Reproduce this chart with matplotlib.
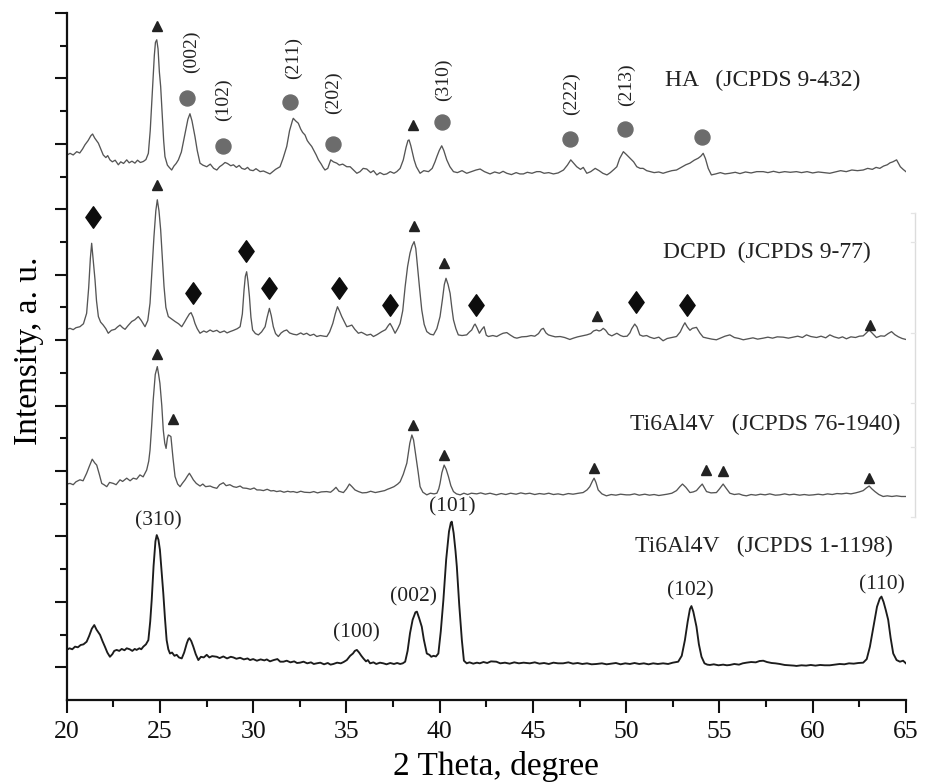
import matplotlib
matplotlib.use("Agg")
import matplotlib.pyplot as plt
from matplotlib.path import Path
from matplotlib.lines import Line2D

plt.rcParams['font.family'] = ['Liberation Serif', 'DejaVu Serif']

# ---- diffractograms: (2theta in degrees, intensity in a.u.) ----
ti_1198 = [
    (20.00, 1.53), (20.15, 1.58), (20.30, 1.55), (20.45, 1.63), (20.60, 1.61), (20.75, 1.68),
    (20.90, 1.70), (21.07, 1.78), (21.20, 1.95), (21.35, 2.18), (21.48, 2.29), (21.60, 2.15),
    (21.79, 1.99), (21.92, 1.80), (22.05, 1.63), (22.18, 1.45), (22.32, 1.32), (22.45, 1.40),
    (22.55, 1.50), (22.68, 1.53), (22.82, 1.50), (22.95, 1.56), (23.10, 1.52), (23.22, 1.58),
    (23.38, 1.55), (23.52, 1.50), (23.65, 1.56), (23.75, 1.53), (23.90, 1.58), (24.00, 1.55),
    (24.11, 1.63), (24.25, 1.70), (24.38, 1.83), (24.48, 2.40), (24.56, 3.06), (24.66, 4.10),
    (24.76, 4.85), (24.83, 5.04), (24.92, 4.90), (25.00, 4.59), (25.09, 3.95), (25.18, 3.27),
    (25.27, 2.50), (25.36, 1.83), (25.45, 1.55), (25.54, 1.42), (25.65, 1.45), (25.78, 1.35),
    (25.90, 1.38), (26.02, 1.30), (26.17, 1.27), (26.30, 1.45), (26.44, 1.73), (26.52, 1.85),
    (26.58, 1.89), (26.68, 1.80), (26.79, 1.63), (26.92, 1.40), (27.06, 1.22), (27.20, 1.32),
    (27.35, 1.30), (27.51, 1.38), (27.65, 1.30), (27.80, 1.34), (28.05, 1.32), (28.20, 1.28),
    (28.40, 1.33), (28.60, 1.27), (28.80, 1.32), (28.94, 1.30), (29.10, 1.26), (29.30, 1.29),
    (29.50, 1.24), (29.70, 1.27), (29.83, 1.22), (30.00, 1.25), (30.20, 1.20), (30.40, 1.24),
    (30.60, 1.21), (30.73, 1.24), (30.90, 1.18), (31.10, 1.22), (31.30, 1.25), (31.45, 1.17),
    (31.62, 1.17), (31.80, 1.20), (32.00, 1.15), (32.20, 1.18), (32.35, 1.13), (32.51, 1.14),
    (32.70, 1.17), (32.90, 1.12), (33.10, 1.15), (33.25, 1.10), (33.41, 1.12), (33.60, 1.14),
    (33.80, 1.09), (34.00, 1.13), (34.15, 1.08), (34.30, 1.10), (34.50, 1.14), (34.70, 1.12),
    (34.85, 1.16), (35.02, 1.22), (35.20, 1.35), (35.35, 1.42), (35.45, 1.50), (35.56, 1.53),
    (35.68, 1.45), (35.80, 1.35), (35.91, 1.27), (36.05, 1.18), (36.15, 1.22), (36.27, 1.12),
    (36.45, 1.15), (36.60, 1.10), (36.80, 1.14), (36.98, 1.12), (37.15, 1.09), (37.35, 1.13),
    (37.55, 1.10), (37.72, 1.13), (37.88, 1.10), (38.02, 1.12), (38.15, 1.17), (38.28, 1.50),
    (38.41, 2.04), (38.55, 2.45), (38.70, 2.68), (38.78, 2.70), (38.90, 2.50), (39.04, 2.24),
    (39.15, 1.85), (39.31, 1.42), (39.45, 1.38), (39.55, 1.32), (39.67, 1.35), (39.80, 1.33),
    (39.93, 1.42), (40.06, 2.10), (40.20, 3.06), (40.35, 4.30), (40.50, 5.15), (40.60, 5.42),
    (40.65, 5.45), (40.75, 5.10), (40.85, 4.55), (40.92, 4.08), (41.05, 2.90), (41.19, 1.83),
    (41.30, 1.20), (41.45, 1.12), (41.60, 1.15), (41.80, 1.11), (42.00, 1.14), (42.15, 1.12),
    (42.35, 1.16), (42.55, 1.13), (42.75, 1.18), (43.04, 1.17), (43.25, 1.12), (43.50, 1.14),
    (43.75, 1.11), (44.00, 1.15), (44.25, 1.12), (44.50, 1.14), (44.83, 1.12), (45.10, 1.15),
    (45.35, 1.11), (45.60, 1.13), (45.85, 1.10), (46.10, 1.14), (46.35, 1.12), (46.62, 1.12),
    (46.90, 1.15), (47.15, 1.11), (47.40, 1.13), (47.65, 1.10), (47.90, 1.12), (48.15, 1.09),
    (48.41, 1.10), (48.70, 1.12), (48.95, 1.09), (49.20, 1.11), (49.45, 1.13), (49.70, 1.09),
    (49.95, 1.12), (50.20, 1.10), (50.45, 1.13), (50.70, 1.10), (50.95, 1.12), (51.20, 1.09),
    (51.45, 1.12), (51.70, 1.10), (51.98, 1.12), (52.25, 1.10), (52.50, 1.14), (52.79, 1.17),
    (52.98, 1.35), (53.15, 1.83), (53.30, 2.40), (53.42, 2.78), (53.50, 2.87), (53.60, 2.70),
    (53.77, 2.24), (53.90, 1.70), (54.04, 1.32), (54.20, 1.12), (54.35, 1.08), (54.49, 1.07),
    (54.70, 1.09), (54.95, 1.06), (55.20, 1.08), (55.40, 1.06), (55.56, 1.07), (55.80, 1.10),
    (56.05, 1.08), (56.25, 1.12), (56.45, 1.14), (56.70, 1.16), (56.95, 1.15), (57.15, 1.19),
    (57.35, 1.20), (57.55, 1.16), (57.80, 1.13), (58.00, 1.12), (58.24, 1.10), (58.50, 1.07),
    (58.75, 1.06), (59.00, 1.05), (59.13, 1.04), (59.40, 1.06), (59.65, 1.05), (59.90, 1.07),
    (60.15, 1.05), (60.40, 1.07), (60.65, 1.06), (60.92, 1.06), (61.20, 1.08), (61.45, 1.10),
    (61.70, 1.09), (61.95, 1.12), (62.20, 1.11), (62.45, 1.13), (62.71, 1.14), (62.90, 1.25),
    (63.07, 1.63), (63.25, 2.20), (63.45, 2.85), (63.60, 3.10), (63.69, 3.16), (63.80, 3.00),
    (63.92, 2.75), (64.05, 2.45), (64.18, 1.90), (64.32, 1.42), (64.50, 1.22), (64.68, 1.17),
    (64.85, 1.20), (65.00, 1.12),
]

ti_76_1940 = [
    (20.00, 1.40), (20.18, 1.42), (20.35, 1.38), (20.50, 1.47), (20.71, 1.53), (20.88, 1.50),
    (21.07, 1.73), (21.22, 1.95), (21.37, 2.16), (21.50, 2.05), (21.61, 1.98), (21.75, 1.70),
    (21.88, 1.42), (22.00, 1.38), (22.15, 1.32), (22.30, 1.45), (22.50, 1.42), (22.65, 1.38),
    (22.86, 1.53), (23.00, 1.48), (23.22, 1.58), (23.40, 1.50), (23.57, 1.58), (23.75, 1.55),
    (23.93, 1.68), (24.10, 1.62), (24.29, 1.83), (24.40, 2.10), (24.47, 2.44), (24.56, 3.20),
    (24.64, 3.97), (24.75, 4.75), (24.86, 4.99), (24.93, 4.75), (25.00, 4.48), (25.10, 3.80),
    (25.18, 3.05), (25.26, 2.65), (25.33, 2.49), (25.40, 2.80), (25.45, 2.90), (25.52, 2.88),
    (25.59, 2.85), (25.70, 2.20), (25.81, 1.63), (25.95, 1.40), (26.08, 1.32), (26.20, 1.42),
    (26.35, 1.53), (26.48, 1.65), (26.58, 1.73), (26.70, 1.62), (26.79, 1.53), (26.95, 1.42),
    (27.15, 1.34), (27.30, 1.40), (27.45, 1.32), (27.69, 1.34), (27.85, 1.30), (28.05, 1.27),
    (28.20, 1.38), (28.40, 1.44), (28.55, 1.35), (28.75, 1.38), (28.94, 1.32), (29.10, 1.30),
    (29.30, 1.34), (29.45, 1.28), (29.65, 1.27), (29.85, 1.24), (30.05, 1.28), (30.20, 1.22),
    (30.37, 1.22), (30.55, 1.20), (30.75, 1.24), (30.95, 1.19), (31.10, 1.20), (31.26, 1.17),
    (31.45, 1.19), (31.65, 1.15), (31.85, 1.18), (32.00, 1.16), (32.15, 1.17), (32.35, 1.14),
    (32.55, 1.18), (32.75, 1.15), (33.05, 1.14), (33.25, 1.17), (33.45, 1.13), (33.65, 1.16),
    (33.94, 1.17), (34.15, 1.15), (34.30, 1.22), (34.44, 1.30), (34.60, 1.18), (34.84, 1.14),
    (35.00, 1.25), (35.16, 1.40), (35.30, 1.32), (35.46, 1.22), (35.65, 1.17), (35.85, 1.13),
    (36.09, 1.14), (36.30, 1.18), (36.55, 1.14), (36.81, 1.17), (37.05, 1.20), (37.20, 1.24),
    (37.34, 1.27), (37.55, 1.32), (37.75, 1.40), (37.88, 1.47), (38.05, 1.70), (38.24, 2.04),
    (38.40, 2.65), (38.51, 2.90), (38.60, 2.75), (38.73, 2.24), (38.85, 1.75), (38.95, 1.32),
    (39.10, 1.15), (39.31, 1.07), (39.50, 1.12), (39.70, 1.10), (39.85, 1.12), (39.95, 1.25),
    (40.02, 1.42), (40.12, 1.75), (40.24, 1.98), (40.35, 1.85), (40.47, 1.63), (40.60, 1.35),
    (40.74, 1.17), (40.90, 1.10), (41.10, 1.07), (41.30, 1.12), (41.50, 1.08), (41.70, 1.12),
    (41.99, 1.10), (42.20, 1.13), (42.45, 1.09), (42.70, 1.12), (43.04, 1.07), (43.30, 1.11),
    (43.55, 1.08), (43.80, 1.12), (44.10, 1.09), (44.35, 1.13), (44.60, 1.10), (44.83, 1.12),
    (45.10, 1.08), (45.35, 1.11), (45.60, 1.09), (45.85, 1.12), (46.10, 1.08), (46.35, 1.10),
    (46.62, 1.07), (46.90, 1.11), (47.15, 1.09), (47.45, 1.12), (47.69, 1.14), (47.90, 1.22),
    (48.05, 1.32), (48.20, 1.50), (48.28, 1.58), (48.38, 1.45), (48.50, 1.22), (48.70, 1.10),
    (48.94, 1.04), (49.20, 1.08), (49.45, 1.06), (49.70, 1.09), (50.00, 1.07), (50.20, 1.07),
    (50.45, 1.10), (50.70, 1.06), (51.00, 1.09), (51.25, 1.06), (51.50, 1.08), (51.75, 1.05),
    (51.98, 1.07), (52.20, 1.09), (52.45, 1.12), (52.70, 1.20), (52.88, 1.32), (53.02, 1.40),
    (53.20, 1.30), (53.42, 1.14), (53.60, 1.16), (53.77, 1.20), (53.95, 1.32), (54.08, 1.40),
    (54.20, 1.28), (54.31, 1.17), (54.55, 1.13), (54.84, 1.14), (55.00, 1.25), (55.20, 1.40),
    (55.35, 1.28), (55.56, 1.12), (55.80, 1.08), (56.05, 1.10), (56.25, 1.06), (56.45, 1.04),
    (56.70, 1.08), (56.95, 1.06), (57.20, 1.09), (57.45, 1.07), (57.70, 1.10), (58.00, 1.06),
    (58.24, 1.07), (58.50, 1.10), (58.75, 1.07), (59.00, 1.09), (59.30, 1.06), (59.55, 1.08),
    (59.80, 1.06), (60.03, 1.07), (60.30, 1.09), (60.55, 1.07), (60.80, 1.10), (61.05, 1.08),
    (61.30, 1.11), (61.55, 1.10), (61.81, 1.12), (62.05, 1.10), (62.30, 1.13), (62.50, 1.16),
    (62.71, 1.20), (62.88, 1.28), (63.03, 1.34), (63.18, 1.25), (63.34, 1.17), (63.55, 1.08),
    (63.78, 1.02), (64.00, 1.04), (64.25, 1.02), (64.50, 1.04), (64.75, 1.02), (65.00, 1.02),
]

dcpd = [
    (20.00, 1.33), (20.18, 1.36), (20.35, 1.32), (20.50, 1.38), (20.71, 1.41), (20.90, 1.50),
    (21.07, 1.82), (21.18, 2.60), (21.27, 3.50), (21.34, 3.96), (21.43, 3.40), (21.52, 2.84),
    (21.60, 2.20), (21.70, 1.72), (21.82, 1.55), (21.96, 1.46), (22.10, 1.35), (22.23, 1.21),
    (22.40, 1.30), (22.59, 1.33), (22.72, 1.40), (22.86, 1.46), (23.00, 1.38), (23.13, 1.33),
    (23.30, 1.45), (23.49, 1.57), (23.65, 1.62), (23.84, 1.72), (24.00, 1.60), (24.20, 1.41),
    (24.35, 1.60), (24.47, 2.13), (24.58, 3.20), (24.68, 4.16), (24.78, 4.95), (24.86, 5.29),
    (24.95, 4.95), (25.04, 4.37), (25.13, 3.50), (25.22, 2.64), (25.32, 2.00), (25.45, 1.72),
    (25.62, 1.65), (25.81, 1.57), (26.00, 1.50), (26.17, 1.41), (26.32, 1.55), (26.44, 1.67),
    (26.58, 1.80), (26.67, 1.84), (26.78, 1.70), (26.88, 1.51), (27.00, 1.35), (27.15, 1.21),
    (27.35, 1.28), (27.50, 1.24), (27.69, 1.31), (27.85, 1.26), (28.05, 1.30), (28.22, 1.23),
    (28.45, 1.28), (28.60, 1.22), (28.76, 1.26), (28.95, 1.30), (29.15, 1.35), (29.30, 1.41),
    (29.42, 1.80), (29.51, 2.53), (29.58, 2.95), (29.65, 3.09), (29.72, 2.80), (29.80, 2.33),
    (29.88, 1.70), (29.97, 1.31), (30.12, 1.20), (30.28, 1.16), (30.45, 1.25), (30.64, 1.41),
    (30.75, 1.70), (30.87, 1.97), (30.97, 1.75), (31.08, 1.41), (31.20, 1.20), (31.35, 1.11),
    (31.50, 1.22), (31.65, 1.28), (31.80, 1.31), (31.95, 1.22), (32.15, 1.18), (32.34, 1.16),
    (32.55, 1.22), (32.70, 1.17), (32.87, 1.21), (33.05, 1.14), (33.25, 1.18), (33.41, 1.11),
    (33.60, 1.14), (33.80, 1.12), (33.95, 1.11), (34.10, 1.25), (34.27, 1.51), (34.40, 1.80),
    (34.52, 2.02), (34.62, 1.90), (34.75, 1.72), (34.90, 1.55), (35.02, 1.41), (35.15, 1.43),
    (35.29, 1.46), (35.45, 1.33), (35.64, 1.21), (35.80, 1.24), (35.91, 1.21), (36.10, 1.15),
    (36.30, 1.18), (36.45, 1.11), (36.65, 1.17), (36.90, 1.26), (37.10, 1.32), (37.25, 1.45),
    (37.34, 1.51), (37.45, 1.40), (37.61, 1.21), (37.75, 1.35), (37.88, 1.51), (38.02, 1.90),
    (38.15, 2.64), (38.28, 3.25), (38.41, 3.66), (38.52, 3.88), (38.63, 4.01), (38.72, 3.80),
    (38.81, 3.25), (38.92, 2.60), (39.04, 1.92), (39.17, 1.48), (39.31, 1.26), (39.50, 1.18),
    (39.67, 1.16), (39.85, 1.35), (40.02, 1.72), (40.15, 2.25), (40.25, 2.70), (40.34, 2.89),
    (40.45, 2.70), (40.56, 2.43), (40.65, 2.00), (40.74, 1.62), (40.87, 1.35), (41.00, 1.16),
    (41.20, 1.14), (41.45, 1.16), (41.60, 1.25), (41.72, 1.31), (41.85, 1.46), (41.90, 1.49),
    (42.00, 1.38), (42.13, 1.21), (42.25, 1.32), (42.38, 1.41), (42.50, 1.15), (42.61, 1.11),
    (42.85, 1.14), (43.06, 1.11), (43.25, 1.17), (43.40, 1.21), (43.60, 1.23), (43.80, 1.15),
    (44.00, 1.08), (44.14, 1.06), (44.40, 1.10), (44.67, 1.11), (44.90, 1.14), (45.10, 1.12),
    (45.30, 1.20), (45.45, 1.33), (45.56, 1.36), (45.70, 1.22), (45.83, 1.16), (46.00, 1.13),
    (46.20, 1.10), (46.46, 1.11), (46.70, 1.08), (46.98, 1.02), (47.17, 1.06), (47.40, 1.10),
    (47.65, 1.13), (47.89, 1.16), (48.10, 1.20), (48.25, 1.28), (48.41, 1.31), (48.55, 1.28),
    (48.65, 1.30), (48.77, 1.36), (48.90, 1.30), (49.05, 1.18), (49.23, 1.13), (49.40, 1.18),
    (49.50, 1.21), (49.70, 1.14), (49.85, 1.11), (50.05, 1.12), (50.20, 1.22), (50.30, 1.35),
    (50.46, 1.49), (50.58, 1.40), (50.73, 1.16), (50.90, 1.12), (51.10, 1.14), (51.27, 1.09),
    (51.50, 1.05), (51.75, 1.09), (51.98, 0.98), (52.20, 1.05), (52.45, 1.08), (52.70, 1.11),
    (52.90, 1.25), (53.05, 1.43), (53.15, 1.53), (53.28, 1.40), (53.42, 1.30), (53.55, 1.36),
    (53.77, 1.39), (53.95, 1.22), (54.13, 1.09), (54.35, 1.06), (54.60, 1.03), (54.84, 1.01),
    (55.05, 1.06), (55.30, 1.12), (55.56, 1.16), (55.80, 1.08), (56.05, 1.05), (56.28, 1.01),
    (56.55, 1.04), (56.80, 1.07), (57.05, 1.03), (57.35, 1.06), (57.60, 1.09), (57.85, 1.06),
    (58.10, 1.10), (58.42, 1.09), (58.70, 1.06), (58.95, 1.09), (59.20, 1.12), (59.45, 1.08),
    (59.67, 1.16), (59.90, 1.11), (60.21, 1.08), (60.45, 1.12), (60.70, 1.07), (60.92, 1.16),
    (61.15, 1.10), (61.40, 1.06), (61.60, 1.10), (61.81, 1.04), (62.05, 1.10), (62.30, 1.08),
    (62.50, 1.12), (62.71, 1.13), (62.88, 1.22), (63.03, 1.31), (63.18, 1.22), (63.42, 1.08),
    (63.65, 1.13), (63.85, 1.12), (64.05, 1.20), (64.23, 1.26), (64.40, 1.17), (64.60, 1.10),
    (64.80, 1.05), (65.00, 1.02),
]

ha = [
    (20.00, 1.65), (20.18, 1.71), (20.35, 1.66), (20.54, 1.76), (20.70, 1.72), (20.85, 1.84),
    (20.98, 1.97), (21.15, 2.10), (21.30, 2.25), (21.39, 2.30), (21.50, 2.18), (21.60, 2.10),
    (21.70, 2.02), (21.82, 1.85), (21.96, 1.66), (22.10, 1.58), (22.20, 1.64), (22.32, 1.51),
    (22.45, 1.45), (22.60, 1.50), (22.77, 1.36), (22.90, 1.45), (23.05, 1.40), (23.22, 1.51),
    (23.35, 1.42), (23.50, 1.47), (23.66, 1.41), (23.80, 1.50), (23.95, 1.43), (24.11, 1.46),
    (24.25, 1.52), (24.38, 1.71), (24.48, 2.40), (24.55, 3.15), (24.61, 3.75), (24.70, 4.70),
    (24.76, 5.10), (24.83, 5.18), (24.90, 4.90), (24.97, 4.20), (25.04, 3.75), (25.12, 2.90),
    (25.20, 2.10), (25.27, 1.61), (25.40, 1.35), (25.50, 1.28), (25.63, 1.20), (25.75, 1.32),
    (25.87, 1.40), (25.99, 1.51), (26.15, 1.75), (26.35, 2.32), (26.50, 2.75), (26.61, 2.92),
    (26.72, 2.70), (26.88, 2.22), (27.00, 1.80), (27.15, 1.41), (27.30, 1.35), (27.51, 1.30),
    (27.70, 1.38), (27.88, 1.25), (28.05, 1.20), (28.20, 1.30), (28.35, 1.36), (28.49, 1.43),
    (28.62, 1.40), (28.80, 1.33), (28.94, 1.36), (29.10, 1.28), (29.25, 1.34), (29.39, 1.25),
    (29.55, 1.22), (29.70, 1.28), (29.83, 1.20), (30.00, 1.18), (30.15, 1.24), (30.37, 1.15),
    (30.55, 1.17), (30.75, 1.12), (30.90, 1.08), (31.05, 1.15), (31.20, 1.22), (31.44, 1.30),
    (31.60, 1.55), (31.80, 1.92), (31.95, 2.40), (32.10, 2.70), (32.15, 2.78), (32.28, 2.70),
    (32.42, 2.63), (32.55, 2.45), (32.65, 2.35), (32.78, 2.27), (32.90, 2.10), (33.00, 2.02),
    (33.14, 1.92), (33.25, 1.80), (33.38, 1.66), (33.50, 1.51), (33.65, 1.38), (33.75, 1.28),
    (33.85, 1.20), (34.00, 1.25), (34.16, 1.51), (34.30, 1.45), (34.48, 1.41), (34.62, 1.35),
    (34.80, 1.38), (35.02, 1.30), (35.20, 1.30), (35.38, 1.20), (35.56, 1.10), (35.73, 1.15),
    (35.90, 1.25), (36.09, 1.23), (36.30, 1.12), (36.45, 1.18), (36.63, 1.05), (36.80, 1.12),
    (37.00, 1.06), (37.16, 1.08), (37.35, 1.15), (37.55, 1.10), (37.70, 1.15), (37.88, 1.25),
    (38.05, 1.51), (38.20, 1.90), (38.30, 2.10), (38.36, 2.12), (38.45, 1.95), (38.55, 1.70),
    (38.63, 1.51), (38.75, 1.30), (38.95, 1.10), (39.15, 1.18), (39.40, 1.15), (39.60, 1.25),
    (39.75, 1.45), (39.85, 1.61), (39.98, 1.80), (40.11, 1.94), (40.22, 1.80), (40.38, 1.51),
    (40.55, 1.30), (40.74, 1.15), (40.95, 1.12), (41.20, 1.18), (41.45, 1.10), (41.70, 1.15),
    (41.95, 1.20), (42.17, 1.23), (42.40, 1.15), (42.70, 1.08), (42.95, 1.14), (43.20, 1.10),
    (43.40, 1.16), (43.60, 1.10), (43.85, 1.06), (44.10, 1.12), (44.30, 1.08), (44.49, 1.08),
    (44.70, 1.13), (44.95, 1.10), (45.20, 1.15), (45.39, 1.15), (45.60, 1.10), (45.85, 1.12),
    (46.10, 1.08), (46.35, 1.11), (46.64, 1.20), (46.85, 1.35), (47.03, 1.51), (47.20, 1.40),
    (47.35, 1.30), (47.55, 1.22), (47.70, 1.28), (47.89, 1.10), (48.10, 1.15), (48.34, 1.25),
    (48.55, 1.18), (48.75, 1.10), (48.97, 1.05), (49.15, 1.12), (49.35, 1.22), (49.50, 1.30),
    (49.65, 1.55), (49.85, 1.76), (50.00, 1.68), (50.21, 1.56), (50.40, 1.45), (50.57, 1.30),
    (50.75, 1.25), (50.91, 1.25), (51.10, 1.18), (51.30, 1.15), (51.50, 1.12), (51.75, 1.14),
    (51.98, 1.10), (52.20, 1.14), (52.45, 1.18), (52.70, 1.20), (52.95, 1.28), (53.20, 1.36),
    (53.42, 1.41), (53.65, 1.50), (53.86, 1.56), (54.00, 1.62), (54.13, 1.71), (54.25, 1.55),
    (54.40, 1.25), (54.57, 1.05), (54.80, 1.08), (55.05, 1.12), (55.30, 1.08), (55.56, 1.10),
    (55.85, 1.13), (56.10, 1.09), (56.40, 1.14), (56.70, 1.11), (57.00, 1.15), (57.35, 1.15),
    (57.60, 1.12), (57.90, 1.16), (58.20, 1.12), (58.50, 1.15), (58.80, 1.13), (59.13, 1.15),
    (59.40, 1.12), (59.70, 1.15), (60.00, 1.11), (60.30, 1.14), (60.60, 1.12), (60.92, 1.10),
    (61.20, 1.14), (61.50, 1.18), (61.80, 1.15), (62.10, 1.20), (62.40, 1.18), (62.71, 1.20),
    (62.95, 1.25), (63.20, 1.22), (63.40, 1.28), (63.60, 1.25), (63.80, 1.32), (64.00, 1.36),
    (64.15, 1.42), (64.30, 1.45), (64.50, 1.51), (64.70, 1.30), (64.85, 1.22), (65.00, 1.15),
]

# ---- phase markers: (2theta, height above the pattern baseline) ----
ha_titanium_peaks = [(24.83, 5.60), (38.59, 2.58)]
ha_apatite_peaks = [(26.44, 3.39), (28.40, 1.92), (31.98, 3.29), (34.30, 2.00),
                    (40.11, 2.68), (47.01, 2.14), (49.93, 2.46), (54.08, 2.20)]
ha_hkl = [("(002)", 26.70, 4.82), ("(102)", 28.40, 3.34), ("(211)", 32.16, 4.62),
          ("(202)", 34.30, 3.55), ("(310)", 40.20, 3.95), ("(222)", 47.07, 3.55),
          ("(213)", 50.02, 3.80)]

dcpd_brushite_peaks = [(21.39, 4.75), (26.76, 2.45), (29.60, 3.73), (30.87, 2.58),
                       (34.62, 2.58), (37.34, 2.08), (41.95, 2.08), (50.52, 2.15),
                       (53.27, 2.08)]
dcpd_titanium_peaks = [(24.86, 5.74), (38.63, 4.49), (40.24, 3.35), (48.43, 1.74),
                       (63.07, 1.46)]

ti76_titanium_peaks = [(24.86, 5.38), (25.68, 3.39), (38.59, 3.21), (40.24, 2.29),
                       (48.28, 1.88), (54.27, 1.83), (55.20, 1.81), (63.03, 1.58)]

ti1198_hkl = [("(310)", 24.92, 5.48), ("(100)", 35.56, 2.04), ("(002)", 38.59, 3.16),
              ("(101)", 40.66, 5.90), ("(102)", 53.42, 3.34), ("(110)", 63.69, 3.52)]

pattern_names = ["Ti6Al4V   (JCPDS 1-1198)", "Ti6Al4V   (JCPDS 76-1940)",
                 "DCPD  (JCPDS 9-77)", "HA   (JCPDS 9-432)"]

x_ticks = [20, 25, 30, 35, 40, 45, 50, 55, 60, 65]

# ---- layout / style ----
stack_offset = [0.0, 5.2, 10.0, 15.0]
name_anchor = [(50.46, 4.68), (50.20, 3.21), (51.98, 3.67), (52.08, 3.95)]
trace_style = [dict(color="#1c1c1c", lw=1.35), dict(color="#555555", lw=0.95),
               dict(color="#555555", lw=0.95), dict(color="#555555", lw=0.95)]

diamond = Path([(0, 1), (0.71, 0), (0, -1), (-0.71, 0), (0, 1)],
               [Path.MOVETO, Path.LINETO, Path.LINETO, Path.LINETO, Path.CLOSEPOLY])

fig = plt.figure(figsize=(9.26, 7.82), dpi=100)
ax = fig.add_axes([0.0720, 0.1049, 0.9063, 0.8785])

patterns = [ti_1198, ti_76_1940, dcpd, ha]
for data, off, style in zip(patterns, stack_offset, trace_style):
    tt, ii = zip(*data)
    ax.plot(tt, [v + off for v in ii], solid_joinstyle="round", **style)

def put_markers(peaks, off, **kw):
    tt, hh = zip(*peaks)
    ax.plot(tt, [h + off for h in hh], ls="none", **kw)

tri = dict(marker="^", ms=7.6, color="#222222", mec="#222222")
put_markers(ha_titanium_peaks, stack_offset[3], **tri)
put_markers(ha_apatite_peaks, stack_offset[3], marker="o", ms=10.8,
            color="#6c6c6c", mec="#6c6c6c")
put_markers(dcpd_titanium_peaks, stack_offset[2], **tri)
put_markers(dcpd_brushite_peaks, stack_offset[2], marker=diamond, ms=15.5,
            color="#0d0d0d", mec="#0d0d0d")
put_markers(ti76_titanium_peaks, stack_offset[1], **tri)

for lab, t, h in ha_hkl:
    ax.text(t, h + stack_offset[3], lab, rotation=90, ha="center", va="center",
            fontsize=14, color="#222222")
for lab, t, h in ti1198_hkl:
    ax.text(t, h + stack_offset[0], lab, ha="center", va="center",
            fontsize=15.5, color="#222222")

for name, (t, h), off in zip(pattern_names, name_anchor, stack_offset):
    ax.text(t, h + off, name, ha="left", va="center", fontsize=17, color="#222222")

# ---- axes ----
ax.set_xlim(20, 65)
ax.set_ylim(0, 21)
ax.set_xticks(x_ticks)
ax.set_xticks([t + 2.5 for t in x_ticks[:-1]], minor=True)
ax.set_yticks(range(1, 22, 2))
ax.set_yticks(range(2, 21, 2), minor=True)
ax.set_yticklabels([])
for s in ("top", "right"):
    ax.spines[s].set_visible(False)
for s in ("left", "bottom"):
    ax.spines[s].set_linewidth(1.6)
    ax.spines[s].set_color("#111111")
ax.tick_params(which="major", direction="out", length=9, width=1.5, colors="#111111",
               labelsize=18.5, pad=6)
ax.tick_params(which="minor", direction="out", length=5, width=1.5, colors="#111111")
ax.set_xlabel("2 Theta, degree", fontsize=24)
ax.xaxis.label.set_va("center")
ax.xaxis.set_label_coords(0.512, -0.0975)
ax.set_ylabel("Intensity, a. u.", fontsize=24)
ax.yaxis.label.set_va("center")
ax.yaxis.set_label_coords(-0.045, 0.508)

# faint bracket at the right edge
bx = 915 / 926
y_lo, y_hi = 1 - 517 / 782, 1 - 213 / 782
fig.add_artist(Line2D([bx, bx], [y_lo, y_hi], transform=fig.transFigure,
                      color="#dcdcdc", lw=1.0))
for yy in (213, 242, 333, 403, 447, 517):
    yf = 1 - yy / 782
    fig.add_artist(Line2D([bx - 4 / 926, bx], [yf, yf], transform=fig.transFigure,
                          color="#e4e4e4", lw=0.9))

fig.savefig("out.png", dpi=100)
